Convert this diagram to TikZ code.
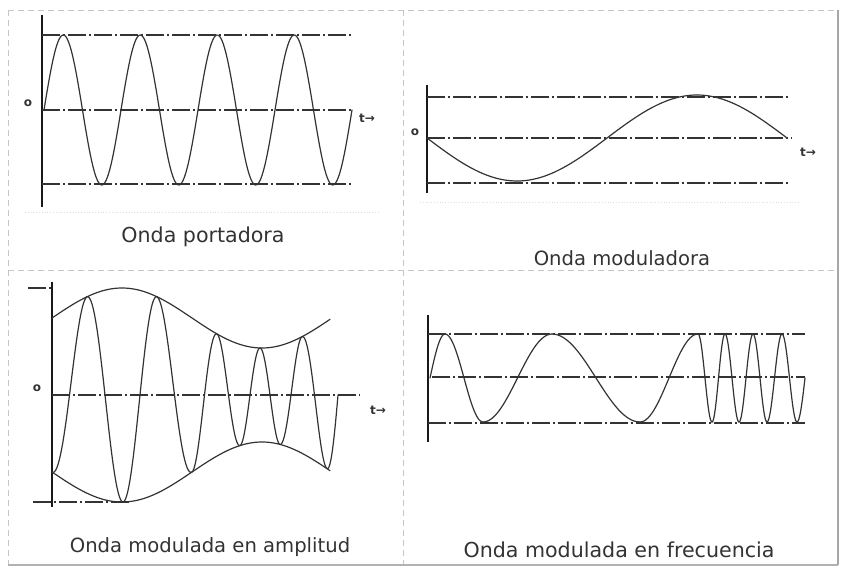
\documentclass[tikz,border=0pt]{standalone}
\usepackage{fontspec}
\setmainfont{DejaVu Sans}
\begin{document}
\begin{tikzpicture}[x=0.5pt, y=-0.5pt,
    every node/.style={font=\fontsize{9.8}{11}\selectfont, text=black!80},
    frame/.style={gray!45, densely dashed, line width=0.4pt},
    refline/.style={black!80, dash pattern=on 9pt off 1.5pt on 1pt off 1.5pt, line width=0.6pt},
    zeroline/.style={refline, line width=1.1pt},
    axisline/.style={black!90, line width=1.1pt},
    wave/.style={black!80, line width=0.6pt, line cap=round},
    lbl/.style={font=\fontsize{6}{7}\selectfont\bfseries, inner sep=1pt}]
    \useasboundingbox (0,0) rectangle (845,571);

    % Panel frames
    \draw[frame] (8,10) -- (838,10);
    \draw[frame] (8,270) -- (838,270);
    \draw[frame] (8,10) -- (8,565);
    \draw[frame] (403,10) -- (403,565);
    \draw[gray!60, line width=0.6pt] (8,565) -- (838,565);
    \draw[gray!70, line width=1pt] (838,10) -- (838,565);
    \draw[gray!25, densely dotted] (25,212) -- (380,212);
    \draw[gray!25, densely dotted] (420,202) -- (800,202);

    % Onda portadora
    \draw[axisline] (42,15) -- (42,207);
    \draw[refline] (42,35) -- (352,35);
    \draw[refline] (42,110) -- (352,110);
    \draw[refline] (42,184) -- (352,184);
    \draw[wave] plot[domain=44:352, samples=240] (\x, {110-75*sin(360/77*(\x-44))});
    \node[lbl] (o1) at (28,103) {o};
    \node[lbl] (t1) at (367,118) {t→};
    \node[font=\fontsize{10.3}{12}\selectfont] (cap1) at (203,237) {Onda portadora};

    % Onda moduladora
    \draw[axisline] (427,85) -- (427,193);
    \draw[refline] (427,97) -- (791,97);
    \draw[zeroline] (427,138) -- (792,138);
    \draw[refline] (427,183) -- (791,183);
    \draw[wave] plot[domain=427:787, samples=120] (\x, {138+43*sin(\x-427)});
    \node[lbl] (o2) at (415,132) {o};
    \node[lbl] (t2) at (808,152) {t→};
    \node (cap2) at (622,258) {Onda moduladora};

    % Onda modulada en amplitud
    \draw[axisline] (52,282) -- (52,507);
    \draw[refline] (28,288) -- (52,288);
    \draw[refline] (33,502) -- (130,502);
    \draw[zeroline] (52,395) -- (360,395);
    \draw[wave] plot[domain=52:330, samples=120] (\x, {395-(77+30*sin(9/7*(\x-52)))});
    \draw[wave] plot[domain=52:330, samples=120] (\x, {395+(77+30*sin(9/7*(\x-52)))});
    \foreach \a/\b/\s in {52/87/1, 87/123/-1, 123/157/1, 157/192/-1, 192/217/1, 217/240/-1,
                          240/260/1, 260/280/-1, 280/302/1, 302/327/-1}
      \draw[wave] plot[domain=\a:\b, samples=30]
        (\x, {395+\s*(77+30*sin(9/7*(\x-52)))*cos(180/(\b-\a)*(\x-\a))});
    \draw[wave] plot[domain=327:338, samples=12]
        (\x, {395+(77+30*sin(9/7*(\x-52)))*cos(180/22*(\x-327))});
    \node[lbl] (o3) at (37,388) {o};
    \node[lbl] (t3) at (378,410) {t→};
    \node (cap3) at (210,547) {Onda modulada en amplitud};

    % Onda modulada en frecuencia
    \draw[axisline] (428,315) -- (428,442);
    \draw[refline] (428,334) -- (805,334);
    \draw[refline] (432,377) -- (805,377);
    \draw[refline] (428,423) -- (805,423);
    \draw[wave] plot[domain=430:445, samples=12] (\x, {378+44*cos(6*(\x-415))});
    \foreach \a/\b/\s in {445/483/-1, 483/552/1, 552/640/-1, 640/698/1, 698/712/-1, 712/725/1,
                          725/739/-1, 739/753/1, 753/767/-1, 767/782/1, 782/797/-1}
      \draw[wave] plot[domain=\a:\b, samples=30] (\x, {378+\s*44*cos(180/(\b-\a)*(\x-\a))});
    \draw[wave] plot[domain=797:805, samples=10] (\x, {378+44*cos(180/16*(\x-797))});
    \node[font=\fontsize{10.3}{12}\selectfont] (cap4) at (619,550) {Onda modulada en frecuencia};
\end{tikzpicture}
\end{document}
